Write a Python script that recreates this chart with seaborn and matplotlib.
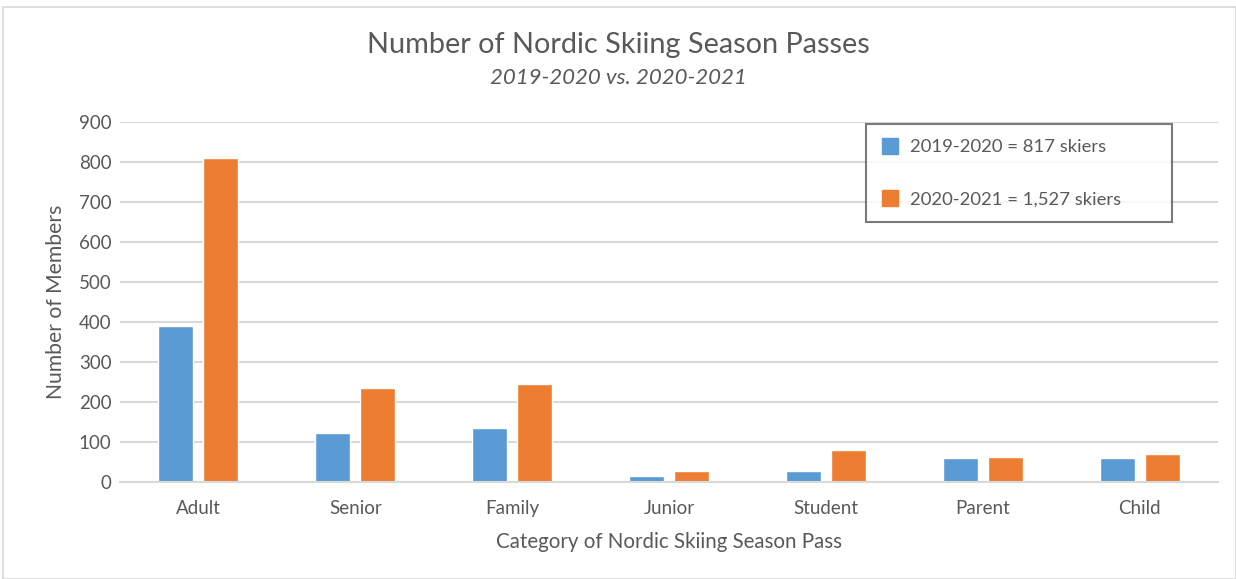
import matplotlib
matplotlib.use("Agg")
import matplotlib.pyplot as plt
import seaborn as sns
import pandas as pd
from matplotlib.patches import Rectangle
from matplotlib.lines import Line2D

categories = ["Adult", "Senior", "Family", "Junior", "Student", "Parent", "Child"]
season_1920 = [390, 123, 134, 15, 28, 61, 61]
season_2021 = [810, 235, 244, 27, 80, 63, 69]
series_names = ["2019-2020", "2020-2021"]
legend_labels = ["2019-2020 = 817 skiers", "2020-2021 = 1,527 skiers"]
yticks = [0, 100, 200, 300, 400, 500, 600, 700, 800, 900]

df = pd.DataFrame({
    "Category": categories * 2,
    "Season": [series_names[0]] * len(categories) + [series_names[1]] * len(categories),
    "Members": season_1920 + season_2021,
})

sns.set_theme(style="white")
plt.rcParams["font.family"] = ["Lato", "DejaVu Sans"]
TXT = "#595959"
colors = {"2019-2020": "#5B9BD5", "2020-2021": "#ED7D31"}

fig = plt.figure(figsize=(12.36, 5.79), dpi=100)
ax = fig.add_axes([120/1236, 1-482/579, (1218-120)/1236, (482-122)/579])

sns.barplot(data=df, x="Category", y="Members", hue="Season", order=categories,
            hue_order=series_names, palette=colors, width=0.573, gap=0.22,
            ax=ax, legend=False, saturation=1)

ax.set_ylim(0, 900)
ax.set_xlim(-0.5, len(categories) - 0.5)
ax.set_yticks(yticks)
ax.yaxis.grid(True, color="#D9D9D9", linewidth=1.5)
ax.set_axisbelow(True)
for s in ["top", "right", "left"]:
    ax.spines[s].set_visible(False)
ax.spines["bottom"].set_color("#D9D9D9")
ax.spines["bottom"].set_linewidth(1.5)
ax.tick_params(axis="y", length=0, labelsize=13.5, colors=TXT, pad=6)
ax.tick_params(axis="x", length=0, labelsize=13.5, colors=TXT, pad=13)
ax.set_xlabel("Category of Nordic Skiing Season Pass", fontsize=14.8, color=TXT, labelpad=11)
ax.set_ylabel("Number of Members", fontsize=15.2, color=TXT, labelpad=9)

fig.text(0.5, 1-45/579, "Number of Nordic Skiing Season Passes", ha="center", va="center",
         fontsize=20.8, color=TXT)
fig.text(0.5, 1-78/579, "2019-2020 vs. 2020-2021", ha="center", va="center",
         fontsize=16, color=TXT, style="italic")

handles = [Line2D([], [], marker="s", linestyle="none", markersize=11.5,
                  markerfacecolor=colors[n], markeredgecolor=colors[n]) for n in series_names]
leg = ax.legend(handles, legend_labels, loc="upper left", mode="expand",
                bbox_to_anchor=(866/1236, 1-222/579, 306/1236, 98/579),
                bbox_transform=fig.transFigure,
                frameon=True, fancybox=False, fontsize=13.3, labelcolor=TXT,
                labelspacing=1.95, handlelength=1.0, handletextpad=0.55,
                borderpad=0.82, borderaxespad=0)
leg.get_frame().set_edgecolor("#595959")
leg.get_frame().set_linewidth(1.5)

fig.patches.append(Rectangle((3/1236, 0), 1-3/1236, 1-7/579, transform=fig.transFigure,
                             fill=False, edgecolor="#D9D9D9", linewidth=1.2))

fig.savefig("out.png", dpi=100)
